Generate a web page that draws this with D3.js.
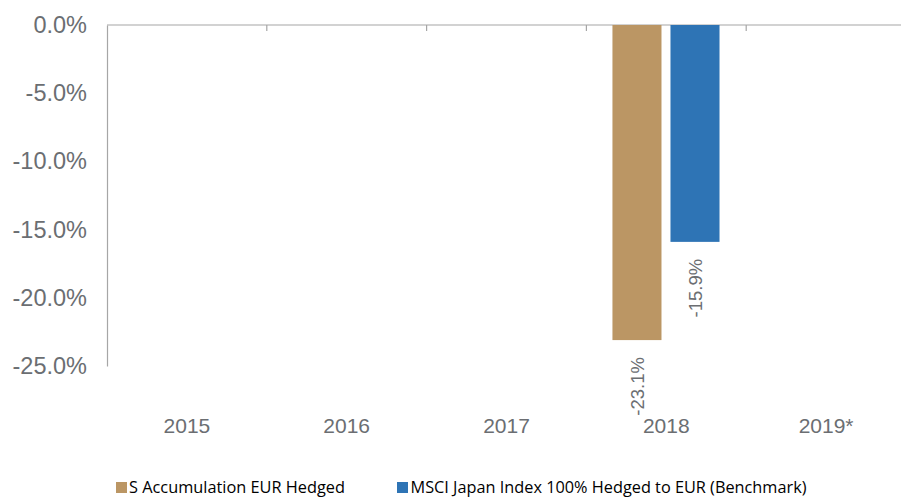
<!DOCTYPE html>
<html>
<head>
<meta charset="utf-8">
<script src="https://cdn.jsdelivr.net/npm/d3@7"></script>
<style>
  body { margin: 0; background: #fff; }
  svg { display: block; }
</style>
</head>
<body>
<svg id="chart" width="901" height="497"></svg>
<script>
const categories = ["2015", "2016", "2017", "2018", "2019*"];
const seriesNames = ["S Accumulation EUR Hedged", "MSCI Japan Index 100% Hedged to EUR (Benchmark)"];
const fundValues = [null, null, null, -23.1, null];
const benchmarkValues = [null, null, null, -15.9, null];
const yTicks = [0, -5, -10, -15, -20, -25];
const colors = ["#BB9664", "#2E74B5"];

(function () {
const svg = d3.select("#chart");
const mLeft = 107, mRight = 906, mTop = 25, mBottom = 366;
const textColor = "#6B6E72";
const axisColor = "#A6A6A6";
const pct = d => d3.format(".1f")(d).replace("\u2212", "-") + "%";

const y = d3.scaleLinear().domain([0, -25]).range([mTop, mBottom]);
const x0 = d3.scaleBand().domain(categories).range([mLeft, mRight]).padding(0);
const bw = x0.bandwidth();
const x1 = d3.scaleBand().domain(seriesNames).range([bw * 0.163, bw * 0.833]).paddingInner(0.155);

// Y axis labels
const yAxis = d3.axisLeft(y).tickValues(yTicks).tickSize(0).tickPadding(20).tickFormat(pct);
const gy = svg.append("g").attr("transform", `translate(${mLeft},0)`).call(yAxis);
gy.select(".domain").attr("stroke", axisColor).attr("stroke-width", 1.2);
gy.selectAll("text").attr("fill", textColor).style("font-family", "Liberation Sans, Arial, sans-serif").style("font-size", "23.5px");

// Top axis (category axis at zero) with ticks pointing down
const boundaries = categories.slice(1).map(c => x0(c));
svg.append("line").attr("x1", mLeft).attr("x2", 901).attr("y1", y(0)).attr("y2", y(0))
  .attr("stroke", axisColor).attr("stroke-width", 1.2);
svg.selectAll(".ctick").data(boundaries).enter().append("line")
  .attr("x1", d => d).attr("x2", d => d).attr("y1", y(0)).attr("y2", y(0) + 6)
  .attr("stroke", axisColor).attr("stroke-width", 1.2);

// Category labels
svg.selectAll(".clabel").data(categories).enter().append("text")
  .attr("x", d => x0(d) + bw / 2).attr("y", 432.5)
  .attr("text-anchor", "middle").attr("fill", textColor)
  .style("font-family", "Liberation Sans, Arial, sans-serif").style("font-size", "21px")
  .text(d => d);

// Bars
const data = [];
categories.forEach((c, i) => {
  [fundValues, benchmarkValues].forEach((vals, s) => {
    if (vals[i] !== null) data.push({ cat: c, series: seriesNames[s], value: vals[i], s });
  });
});

svg.selectAll(".bar").data(data).enter().append("rect")
  .attr("x", d => x0(d.cat) + x1(d.series))
  .attr("width", x1.bandwidth())
  .attr("y", d => y(0))
  .attr("height", d => y(d.value) - y(0))
  .attr("fill", d => colors[d.s]);

// Value labels (rotated)
svg.selectAll(".vlabel").data(data).enter().append("text")
  .attr("transform", d => `translate(${x0(d.cat) + x1(d.series) + x1.bandwidth() / 2 + 7},${y(d.value) + 17}) rotate(-90)`)
  .attr("text-anchor", "end").attr("fill", textColor)
  .style("font-family", "Liberation Sans, Arial, sans-serif").style("font-size", "18.5px")
  .text(d => pct(d.value));

// Legend
const legendItems = [
  { name: seriesNames[0], color: colors[0], sx: 116, tx: 129, w: 216 },
  { name: seriesNames[1], color: colors[1], sx: 397, tx: 410.5, w: 396 }
];
const lg = svg.append("g");
legendItems.forEach(it => {
  lg.append("rect").attr("x", it.sx).attr("y", 482).attr("width", 11).attr("height", 11).attr("fill", it.color);
  lg.append("text").attr("x", it.tx).attr("y", 492.5)
    .attr("fill", "#000")
    .attr("textLength", it.w).attr("lengthAdjust", "spacingAndGlyphs")
    .style("font-family", "Open Sans, sans-serif").style("font-size", "15.5px")
    .text(it.name);
});
})();
</script>
</body>
</html>
